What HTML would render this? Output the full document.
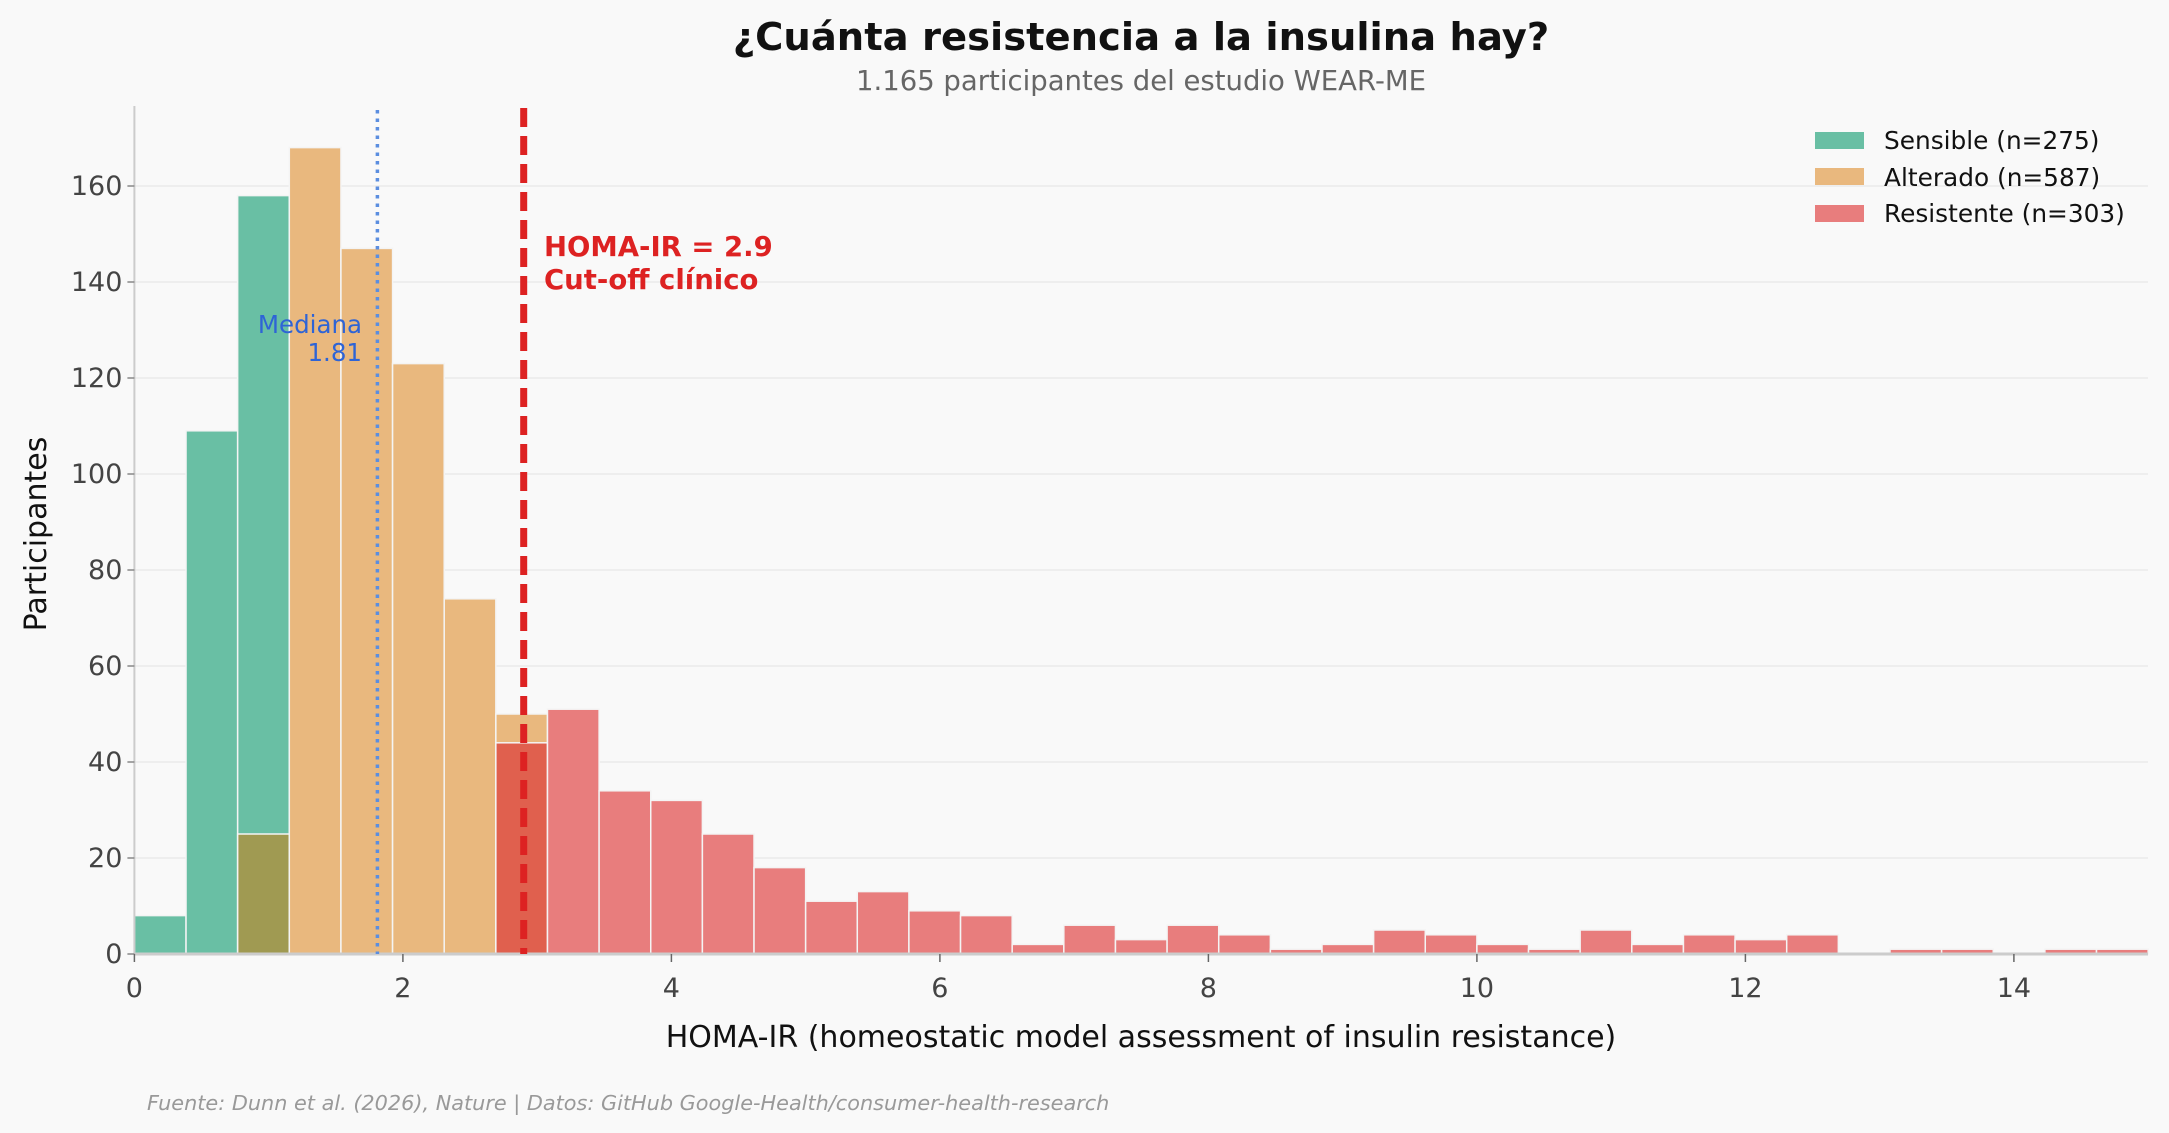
<!DOCTYPE html>
<html><head><meta charset="utf-8"><style>
html,body{margin:0;padding:0;background:#f9f9f9}
svg{display:block;font-family:"DejaVu Sans","Liberation Sans",sans-serif}
</style></head><body>
<svg id="s" width="2169" height="1133" viewBox="0 0 2169 1133" xmlns="http://www.w3.org/2000/svg">
<rect width="2169" height="1133" fill="#f9f9f9"/>
<g id="grid" stroke="#ebebeb" stroke-width="1.5"></g>
<g id="bars"></g>
<line x1="134.4" y1="106" x2="134.4" y2="954" stroke="#cccccc" stroke-width="2"/>
<line x1="134.4" y1="954" x2="2148" y2="954" stroke="#cccccc" stroke-width="3"/>
<line x1="377.4" y1="110" x2="377.4" y2="954" stroke="#5b8ee0" stroke-width="3.5" stroke-dasharray="3.5,5"/>
<line x1="523.7" y1="108" x2="523.7" y2="954" stroke="#dd2222" stroke-width="7" stroke-dasharray="19,9"/>
<g id="ticks" fill="#444" font-size="27"></g>
<text x="362" y="333" font-size="24.5" fill="#2e64d6" text-anchor="end">Mediana</text>
<text x="362" y="361" font-size="24.5" fill="#2e64d6" text-anchor="end">1.81</text>
<text x="544" y="256" font-size="27.5" font-weight="bold" fill="#dd2222">HOMA-IR = 2.9</text>
<text x="544" y="289" font-size="27.5" font-weight="bold" fill="#dd2222">Cut-off clínico</text>
<text x="1141" y="50" font-size="38.5" font-weight="bold" fill="#111" text-anchor="middle">¿Cuánta resistencia a la insulina hay?</text>
<text x="1141" y="90" font-size="27.5" fill="#666" text-anchor="middle">1.165 participantes del estudio WEAR-ME</text>
<text x="1141" y="1047" font-size="30" fill="#111" text-anchor="middle">HOMA-IR (homeostatic model assessment of insulin resistance)</text>
<text transform="translate(46,534) rotate(-90)" font-size="30" fill="#111" text-anchor="middle">Participantes</text>
<text x="147" y="1110" font-size="20.8" font-style="italic" fill="#999">Fuente: Dunn et al. (2026), Nature | Datos: GitHub Google-Health/consumer-health-research</text>
<rect x="1815" y="132" width="49" height="17" fill="#69bfa4"/>
<rect x="1815" y="168" width="49" height="17" fill="#e9b87e"/>
<rect x="1815" y="205" width="49" height="17" fill="#e87d7d"/>
<text x="1884" y="149" font-size="24.8" fill="#111">Sensible (n=275)</text>
<text x="1884" y="186" font-size="24.8" fill="#111">Alterado (n=587)</text>
<text x="1884" y="222" font-size="24.8" fill="#111">Resistente (n=303)</text>
</svg>
<script>
var NS="http://www.w3.org/2000/svg";
var x0=134.4,ux=134.25,y0=954,uy=4.8,bw=15/39;
function X(v){return x0+v*ux}function Y(v){return y0-v*uy}
function el(p,t,a){var e=document.createElementNS(NS,t);for(var k in a)e.setAttribute(k,a[k]);p.appendChild(e);return e}
var g=document.getElementById("grid");
for(var v=20;v<=160;v+=20)el(g,"line",{x1:x0,x2:2148,y1:Y(v),y2:Y(v)});
var b=document.getElementById("bars");
function bar(i,h,c){if(!h)return;el(b,"rect",{x:X(i*bw),y:Y(h),width:bw*ux,height:h*uy,fill:c,stroke:"#f4f4f4","stroke-width":1.5})}
var sens=[8,109,158];sens.forEach(function(h,i){bar(i,h,"#69bfa4")});
var alt={2:25,3:168,4:147,5:123,6:74,7:50};
for(var k in alt)bar(+k,alt[k],k==2?"#a09a52":"#e9b87e");
var res=[44,51,34,32,25,18,11,13,9,8,2,6,3,6,4,1,2,5,4,2,1,5,2,4,3,4,0,1,1,0,1,1];
res.forEach(function(h,i){bar(i+7,h,i==0?"#e0604e":"#e87d7d")});
var t=document.getElementById("ticks");
for(var v=0;v<=160;v+=20){el(t,"line",{x1:x0-7,x2:x0,y1:Y(v),y2:Y(v),stroke:"#888","stroke-width":1.5});var e=el(t,"text",{x:x0-12,y:Y(v)+9,"text-anchor":"end"});e.textContent=v}
for(var v=0;v<=14;v+=2){el(t,"line",{x1:X(v),x2:X(v),y1:y0,y2:y0+8,stroke:"#666","stroke-width":1.5});var e=el(t,"text",{x:X(v),y:997,"text-anchor":"middle"});e.textContent=v}
</script>
</body></html>
